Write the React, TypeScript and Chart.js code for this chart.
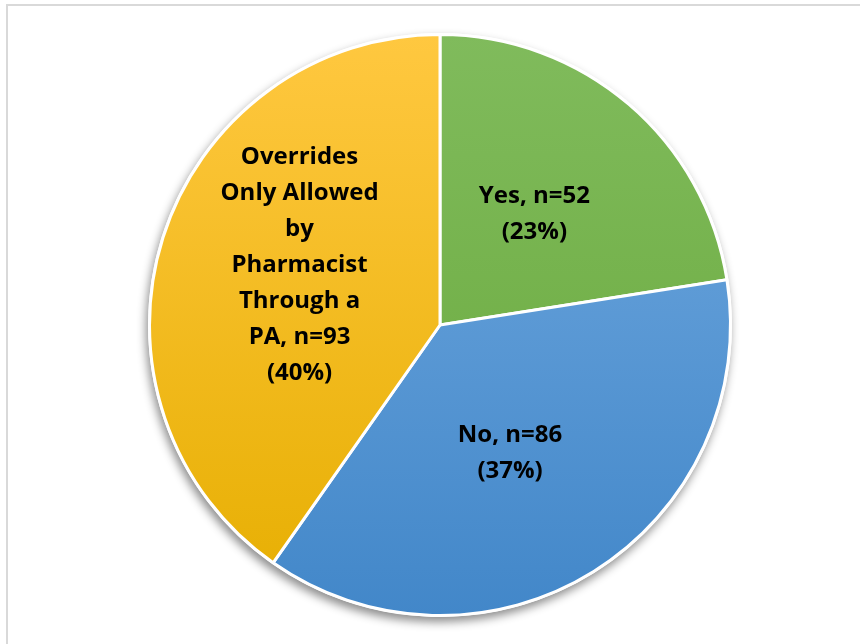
import React, { useEffect, useRef } from "react";
import { Chart, registerables } from "chart.js";

Chart.register(...registerables);

const categories = ["Yes", "No", "Overrides Only Allowed by Pharmacist Through a PA"];
const counts = [52, 86, 93];
const labelLines = [
  ["Yes, n=52", "(23%)"],
  ["No, n=86", "(37%)"],
  ["Overrides", "Only Allowed", "by", "Pharmacist", "Through a", "PA, n=93", "(40%)"],
];
const gradientStops = [
  ["#80bb5c", "#68a83a"],
  ["#72aae0", "#4287c9"],
  ["#ffc840", "#e6ae00"],
];

const shadowPlugin = {
  id: "pieShadow",
  beforeDatasetsDraw(chart: any) {
    const meta = chart.getDatasetMeta(0);
    const arc = meta.data[0];
    if (!arc) return;
    const { x, y, outerRadius } = arc.getProps(["x", "y", "outerRadius"], true);
    const ctx = chart.ctx;
    ctx.save();
    ctx.beginPath();
    ctx.arc(x, y, outerRadius + 1.5, 0, Math.PI * 2);
    ctx.fillStyle = "#ffffff";
    ctx.shadowColor = "rgba(0,0,0,0.45)";
    ctx.shadowBlur = 10;
    ctx.shadowOffsetX = -2;
    ctx.shadowOffsetY = 5;
    ctx.fill();
    ctx.restore();
  },
};

const labelPlugin = {
  id: "sliceLabels",
  afterDatasetsDraw(chart: any) {
    const meta = chart.getDatasetMeta(0);
    const ctx = chart.ctx;
    ctx.save();
    ctx.font = "bold 24px 'Open Sans', Lato, sans-serif";
    ctx.fillStyle = "#000000";
    ctx.textAlign = "center";
    ctx.textBaseline = "middle";
    const lineH = 36;
    const fracs = [0.5, 0.503, 0.525];
    const angleShift = [0, 3.3, 5.4];
    meta.data.forEach((arc: any, i: number) => {
      const { x, y, startAngle, endAngle, outerRadius } = arc.getProps(
        ["x", "y", "startAngle", "endAngle", "outerRadius"],
        true
      );
      const mid = (startAngle + endAngle) / 2 + (angleShift[i] * Math.PI) / 180;
      const r = outerRadius * fracs[i];
      const cx = x + Math.cos(mid) * r;
      const cy = y + Math.sin(mid) * r;
      const lines = labelLines[i];
      const top = cy - ((lines.length - 1) * lineH) / 2;
      lines.forEach((t, j) => ctx.fillText(t, cx, top + j * lineH));
    });
    ctx.restore();
  },
};

export default function App() {
  const ref = useRef<HTMLCanvasElement>(null);
  useEffect(() => {
    if (!ref.current) return;
    const chart = new Chart(ref.current, {
      type: "pie",
      data: {
        labels: categories,
        datasets: [
          {
            data: counts,
            backgroundColor: (c: any) => {
              const area = c.chart.chartArea;
              const stops = gradientStops[c.dataIndex] || gradientStops[0];
              if (!area) return stops[0];
              const g = c.chart.ctx.createLinearGradient(0, area.top, 0, area.bottom);
              g.addColorStop(0, stops[0]);
              g.addColorStop(1, stops[1]);
              return g;
            },
            borderColor: "#ffffff",
            borderWidth: 3,
          },
        ],
      },
      options: {
        animation: false,
        responsive: false,
        layout: { padding: { top: 33, bottom: 27, left: 148, right: 128 } },
        plugins: { legend: { display: false }, tooltip: { enabled: false } },
      },
      plugins: [shadowPlugin, labelPlugin],
    });
    return () => chart.destroy();
  }, []);
  return (
    <div style={{ position: "fixed", left: 0, top: 0, width: 860, height: 644, background: "#fff", overflow: "hidden" }}>
      <div
        style={{
          position: "absolute",
          left: 6,
          top: 4,
          width: 900,
          height: 700,
          border: "2px solid #d9d9d9",
        }}
      />
      <canvas ref={ref} width={860} height={644} style={{ position: "absolute", left: 0, top: 0 }} />
    </div>
  );
}
